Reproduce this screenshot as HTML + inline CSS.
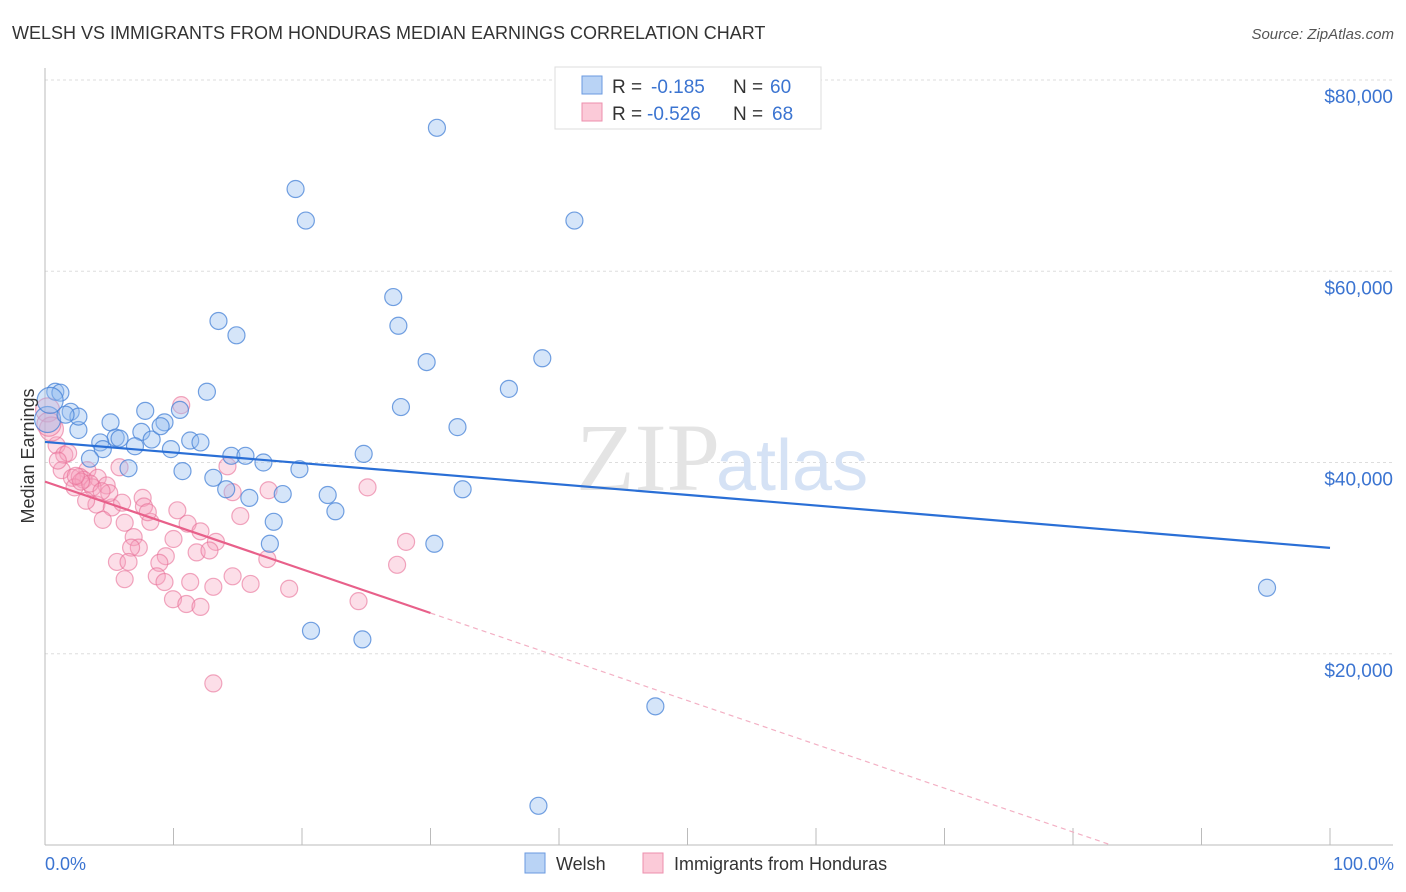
<!DOCTYPE html>
<html><head><meta charset="utf-8"><style>
body{margin:0;background:#fff;font-family:"Liberation Sans",sans-serif;}
svg{display:block}
</style></head><body>
<svg width="1406" height="892" xmlns="http://www.w3.org/2000/svg">
<text x="12" y="39" font-size="18" fill="#333">WELSH VS IMMIGRANTS FROM HONDURAS MEDIAN EARNINGS CORRELATION CHART</text>
<text x="1394" y="39" font-size="15" fill="#555" text-anchor="end" font-style="italic">Source: ZipAtlas.com</text>
<g id="grid"></g>
<text x="720" y="490" font-size="96" fill="#e4e4e4" text-anchor="end" font-family="Liberation Serif">ZIP</text>
<text x="716" y="490" font-size="72" fill="#d5e2f5">atlas</text>
<line x1="45" y1="68" x2="45" y2="845" stroke="#bbb"/>
<line x1="45" y1="845" x2="1393" y2="845" stroke="#bbb"/>
<g id="xticks"></g>
<g id="pts"></g>
<g id="trends"></g>
<text transform="translate(34,456) rotate(-90)" font-size="18" fill="#333" text-anchor="middle">Median Earnings</text>
<text x="45" y="870" font-size="18" fill="#3b74d1">0.0%</text>
<text x="1394" y="870" font-size="18" fill="#3b74d1" text-anchor="end">100.0%</text>
<g>
<rect x="555" y="67" width="266" height="62" fill="#fff" stroke="#ddd"/>
<rect x="582" y="76" width="20" height="18" fill="#b9d3f5" stroke="#6a9ae0"/>
<rect x="582" y="103" width="20" height="18" fill="#fbcad8" stroke="#ec8fad"/>
<text x="612" y="93" font-size="19" fill="#333">R =</text>
<text x="651" y="93" font-size="19" fill="#3b74d1">-0.185</text>
<text x="733" y="93" font-size="19" fill="#333">N =</text>
<text x="770" y="93" font-size="19" fill="#3b74d1">60</text>
<text x="612" y="120" font-size="19" fill="#333">R =</text>
<text x="647" y="120" font-size="19" fill="#3b74d1">-0.526</text>
<text x="733" y="120" font-size="19" fill="#333">N =</text>
<text x="772" y="120" font-size="19" fill="#3b74d1">68</text>
</g>
<g>
<rect x="525" y="853" width="20" height="20" fill="#b9d3f5" stroke="#6a9ae0"/>
<text x="556" y="870" font-size="18" fill="#333">Welsh</text></g>
<g>
<rect x="643" y="853" width="20" height="20" fill="#fbcad8" stroke="#ec8fad"/>
<text x="674" y="870" font-size="18" fill="#333">Immigrants from Honduras</text></g>
</svg>
<script>
const yTicks=[20000,40000,60000,80000];
const yTickLabels=["$20,000","$40,000","$60,000","$80,000"];
const welshX=[30.5,19.5,20.3,41.2,27.1,13.5,14.9,27.5,29.7,38.7,36.1,12.6,0.8,1.2,27.7,2.0,7.8,10.5,5.1,9.3,2.6,7.5,32.1,0.2,5.5,4.3,8.3,11.3,12.1,7.0,4.5,9.8,14.5,15.6,24.8,3.5,17.0,6.5,10.7,19.8,13.1,14.1,32.5,15.9,18.5,22.0,22.6,17.8,17.5,30.3,95.1,20.7,24.7,47.5,38.4,2.6,5.8,0.4,1.6,9.0];
const welshY=[75000,68600,65300,65300,57300,54800,53300,54300,50500,50900,47700,47400,47400,47300,45800,45300,45400,45500,44200,44200,43400,43200,43700,44500,42600,42100,42400,42300,42100,41700,41400,41400,40700,40700,40900,40400,40000,39400,39100,39300,38400,37200,37200,36300,36700,36600,34900,33800,31500,31500,26900,22400,21500,14500,4100,44800,42500,46500,45000,43800];
const hondX=[0.2,10.6,0.9,1.5,1.8,1.3,3.3,2.1,2.7,3.0,4.1,4.8,2.3,3.7,5.8,14.2,7.6,7.7,4.0,5.2,4.5,6.2,8.2,10.3,11.1,15.2,14.6,17.4,25.1,12.1,13.3,6.9,7.3,6.7,9.4,11.8,28.1,5.6,6.5,8.9,17.3,27.4,6.2,8.7,9.3,11.3,14.6,16.0,13.1,19.0,9.96,11.0,12.1,24.4,13.1,0.5,3.5,5.0,2.8,0.3,1.0,4.4,8.0,6.0,3.2,2.4,10.0,12.8];
const hondY=[45500,46000,41800,40800,41000,39200,39200,38400,38500,38200,38400,37600,37400,37400,39500,39600,36300,35400,35600,35300,34000,33700,33800,35000,33600,34400,36900,37100,37400,32800,31700,32200,31100,31100,30200,30600,31700,29600,29600,29500,29900,29300,27800,28100,27500,27500,28100,27300,27000,26800,25700,25200,24900,25500,16900,43500,37800,36800,38000,44000,40200,37000,34800,35800,36000,38600,32000,30800];
const welshTrend=[42150,31070];
const hondTrend=[38000,-458];
const NS='http://www.w3.org/2000/svg';
const xs=p=>45+p*12.85, ys=v=>845-v*0.0095625;
function mk(tag,attrs,parent){const e=document.createElementNS(NS,tag);for(const k in attrs)e.setAttribute(k,attrs[k]);parent.appendChild(e);return e;}
const grid=document.getElementById('grid');
yTicks.forEach((v,i)=>{
 const l=mk('line',{x1:45,x2:1393,y1:ys(v),y2:ys(v),stroke:'#ddd','stroke-dasharray':'3,3'},grid);
 
 
 const t=mk('text',{x:1393,y:ys(v)+23,'font-size':19,fill:'#3b74d1','text-anchor':'end'},grid);
 t.textContent=yTickLabels[i];
 
 
});
const xt=document.getElementById('xticks');
for(let i=1;i<=10;i++){const l=mk('line',{x1:xs(i*10),x2:xs(i*10),y1:828,y2:845,stroke:'#bbb'},xt);
 
 }
const pts=document.getElementById('pts');
hondX.forEach((x,i)=>{const c=mk('circle',{cx:xs(x),cy:ys(hondY[i]),r:x<0.6?12:8.5,fill:'rgba(245,160,188,0.35)',stroke:'rgba(232,110,150,0.6)','stroke-width':1.2},pts);
 
 });
welshX.forEach((x,i)=>{const c=mk('circle',{cx:xs(x),cy:ys(welshY[i]),r:x<0.6?13:8.5,fill:'rgba(150,190,240,0.4)',stroke:'rgba(70,130,215,0.75)','stroke-width':1.2},pts);
 
 });
const tr=document.getElementById('trends');
const wl=mk('line',{x1:xs(0),y1:ys(welshTrend[0]),x2:xs(100),y2:ys(welshTrend[1]),stroke:'#2a6fd6','stroke-width':2.2},tr);


const hy=p=>hondTrend[0]+hondTrend[1]*p;
const hl=mk('line',{x1:xs(0),y1:ys(hy(0)),x2:xs(30),y2:ys(hy(30)),stroke:'#e8608a','stroke-width':2.2},tr);


const pEnd=-hondTrend[0]/hondTrend[1];
const hd=mk('line',{x1:xs(30),y1:ys(hy(30)),x2:xs(pEnd),y2:ys(0),stroke:'#f3b0c4','stroke-width':1.2,'stroke-dasharray':'5,4'},tr);


</script>
</body></html>
